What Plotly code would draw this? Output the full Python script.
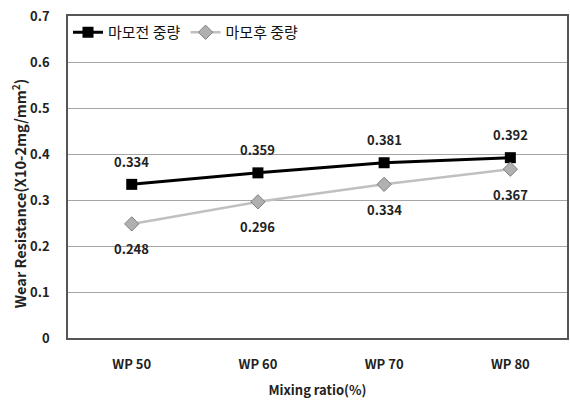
import plotly.graph_objects as go

# Mixing ratio categories and measured wear resistance
categories = ["WP 50", "WP 60", "WP 70", "WP 80"]
before_wear = [0.334, 0.359, 0.381, 0.392]   # 마모전 중량
after_wear = [0.248, 0.296, 0.334, 0.367]    # 마모후 중량
y_ticks = [0, 0.1, 0.2, 0.3, 0.4, 0.5, 0.6, 0.7]
y_tick_text = ["0", "0.1", "0.2", "0.3", "0.4", "0.5", "0.6", "0.7"]

FONT = "Noto Sans CJK KR"

fig = go.Figure()
fig.add_trace(go.Scatter(
    x=categories, y=before_wear, name="마모전 중량", mode="lines+markers",
    line=dict(color="#000000", width=3),
    marker=dict(symbol="square", size=11, color="#000000"),
))
fig.add_trace(go.Scatter(
    x=categories, y=after_wear, name="마모후 중량", mode="lines+markers",
    line=dict(color="#c0c0c0", width=2.5),
    marker=dict(symbol="diamond", size=11, color="#b0b0b0",
                line=dict(color="#7f7f7f", width=1)),
))

# value labels: above the upper series, below the lower series
for c, v in zip(categories, before_wear):
    fig.add_annotation(x=c, y=v, text=f"{v:.3f}", showarrow=False, yshift=23,
                       font=dict(family=FONT, size=13, color="#222222", weight="bold"))
for c, v in zip(categories, after_wear):
    fig.add_annotation(x=c, y=v, text=f"{v:.3f}", showarrow=False, yshift=-25,
                       font=dict(family=FONT, size=13, color="#222222", weight="bold"))

# y-axis title, placed slightly below the plot's vertical centre
fig.add_annotation(
    xref="paper", yref="paper", x=-0.098, y=0.447, xanchor="center", yanchor="middle",
    text="Wear Resistance(X10-2mg/mm<sup>2</sup>)", textangle=-90, showarrow=False,
    font=dict(family=FONT, size=14.5, color="#222222", weight="bold"),
)

fig.update_layout(
    width=570, height=401,
    margin=dict(l=68, r=1, t=16, b=63),
    paper_bgcolor="white", plot_bgcolor="white",
    font=dict(family=FONT, color="#222222"),
    showlegend=True,
    legend=dict(orientation="h", x=0.0, y=1.0, xanchor="left", yanchor="top",
                font=dict(family=FONT, size=15, color="#111111"),
                bgcolor="rgba(0,0,0,0)", itemwidth=30, tracegroupgap=0),
    xaxis=dict(
        type="category", range=[-0.505, 3.449],
        showgrid=False, showline=True, linecolor="#555555", linewidth=1.5,
        mirror=True, ticks="", ticklabelstandoff=14,
        tickfont=dict(family=FONT, size=13, color="#222222", weight="bold"),
        title=dict(text="Mixing ratio(%)", standoff=14,
                   font=dict(family=FONT, size=13, color="#222222", weight="bold")),
    ),
    yaxis=dict(
        range=[0, 0.7], tickvals=y_ticks, ticktext=y_tick_text,
        showgrid=True, gridcolor="#a6a6a6", gridwidth=1,
        showline=True, linecolor="#555555", linewidth=1.5, mirror=True,
        zeroline=False, ticks="", ticklabelstandoff=14,
        tickfont=dict(family=FONT, size=13, color="#222222", weight="bold"),
    ),
)

fig.write_html("out.html")
